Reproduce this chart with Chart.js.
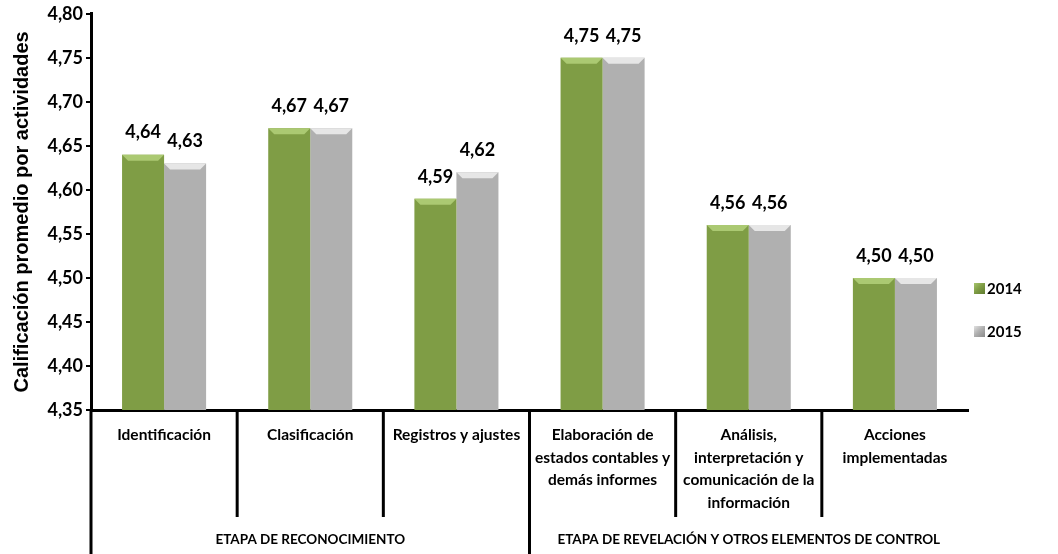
<!DOCTYPE html>
<html lang="es">
<head>
  <meta charset="UTF-8">
  <title>Calificación promedio por actividades</title>
  <style>
    body {
      margin: 0;
      background: white;
    }
    .wrap {
      width: 1058px;
      height: 554px;
    }
  </style>
  <script src="https://cdn.jsdelivr.net/npm/chart.js"></script>
</head>
<body>
  <div class="wrap"><canvas id="chart"></canvas></div>

  <script>
    const categories = [
      'Identificación',
      'Clasificación',
      'Registros y ajustes',
      ['Elaboración de', 'estados contables y', 'demás informes'],
      ['Análisis,', 'interpretación y', 'comunicación de la', 'información'],
      ['Acciones', 'implementadas']
    ];
    const groups = ['ETAPA DE RECONOCIMIENTO', 'ETAPA DE REVELACIÓN Y OTROS ELEMENTOS DE CONTROL'];
    const groupSizes = [3, 3];
    const values2014 = [4.64, 4.67, 4.59, 4.75, 4.56, 4.50];
    const values2015 = [4.63, 4.67, 4.62, 4.75, 4.56, 4.50];
    const yMin = 4.35, yMax = 4.80, yStep = 0.05;

    const fmt = v => v.toFixed(2).replace('.', ',');
    const labelFont = 'Lato, "Open Sans", sans-serif';

    const colors = {
      green: { main: '#7f9d45', light: '#abc972', dark: '#5f7a2f' },
      gray: { main: '#b0b0b0', light: '#e6e6e6', dark: '#8a8a8a' }
    };

    // horizontal gradient so the bars look a bit bevelled
    function barFill(c) {
      return (ctx) => {
        const el = ctx.element;
        const chart = ctx.chart;
        if (!el || !chart.chartArea || el.width === undefined) return c.main;
        const left = el.x - el.width / 2, right = el.x + el.width / 2;
        const g = chart.ctx.createLinearGradient(left, 0, right, 0);
        g.addColorStop(0, c.dark);
        g.addColorStop(0.12, c.main);
        g.addColorStop(0.88, c.main);
        g.addColorStop(1, c.dark);
        return g;
      };
    }

    const bevelPlugin = {
      id: 'bevel',
      afterDatasetsDraw(chart) {
        const ctx = chart.ctx;
        chart.data.datasets.forEach((ds, di) => {
          const c = ds.bevel;
          chart.getDatasetMeta(di).data.forEach(bar => {
            const l = bar.x - bar.width / 2, r = bar.x + bar.width / 2;
            const t = bar.y, b = bar.base, d = 6;
            ctx.save();
            ctx.fillStyle = c.light;
            ctx.beginPath();
            ctx.moveTo(l, t); ctx.lineTo(r, t); ctx.lineTo(r - d, t + d); ctx.lineTo(l + d, t + d);
            ctx.closePath();
            ctx.fill();
            ctx.fillStyle = c.dark;
            ctx.globalAlpha = 0.35;
            ctx.beginPath();
            ctx.moveTo(l, b); ctx.lineTo(r, b); ctx.lineTo(r - d, b - d); ctx.lineTo(l + d, b - d);
            ctx.closePath();
            ctx.fill();
            ctx.restore();
          });
        });
      }
    };

    const valueLabels = {
      id: 'valueLabels',
      afterDatasetsDraw(chart) {
        const ctx = chart.ctx;
        ctx.save();
        ctx.font = 'bold 18px ' + labelFont;
        ctx.fillStyle = '#000';
        ctx.textAlign = 'center';
        ctx.textBaseline = 'middle';
        chart.data.datasets.forEach((ds, di) => {
          chart.getDatasetMeta(di).data.forEach((bar, i) => {
            ctx.fillText(fmt(ds.data[i]), bar.x, bar.y - 22);
          });
        });
        ctx.restore();
      }
    };

    // multi-level category axis: dividers + group names
    const groupAxis = {
      id: 'groupAxis',
      afterDraw(chart) {
        const ctx = chart.ctx;
        const x = chart.scales.x;
        const area = chart.chartArea;
        const half = (x.getPixelForValue(1) - x.getPixelForValue(0)) / 2;
        const edge = i => x.getPixelForValue(i) - half;
        ctx.save();
        ctx.strokeStyle = '#000';
        ctx.lineWidth = 3;
        // y axis line continues down
        ctx.beginPath();
        ctx.moveTo(area.left, area.bottom);
        ctx.lineTo(area.left, chart.height);
        ctx.stroke();
        let start = 0;
        groupSizes.forEach((n, g) => {
          for (let i = start + 1; i < start + n; i++) {
            ctx.beginPath();
            ctx.moveTo(edge(i), area.bottom);
            ctx.lineTo(edge(i), area.bottom + 107);
            ctx.stroke();
          }
          if (start > 0) {
            ctx.beginPath();
            ctx.moveTo(edge(start), area.bottom);
            ctx.lineTo(edge(start), chart.height);
            ctx.stroke();
          }
          const mid = (edge(start) + edge(start + n)) / 2;
          ctx.font = 'bold 13.5px ' + labelFont;
          ctx.fillStyle = '#000';
          ctx.textAlign = 'center';
          ctx.textBaseline = 'middle';
          ctx.fillText(groups[g], mid, area.bottom + 130);
          start += n;
        });
        ctx.restore();
      }
    };

    // legend to the right of the plot
    const sideLegend = {
      id: 'sideLegend',
      afterDraw(chart) {
        const ctx = chart.ctx;
        const area = chart.chartArea;
        const bx = area.right + 6;
        const ys = [288, 331];
        ctx.save();
        ctx.font = 'bold 15px ' + labelFont;
        ctx.textBaseline = 'middle';
        ctx.textAlign = 'left';
        chart.data.datasets.forEach((ds, i) => {
          const y = ys[i];
          const g = ctx.createLinearGradient(bx, y - 6, bx + 11, y + 6);
          g.addColorStop(0, ds.bevel.light);
          g.addColorStop(0.5, ds.bevel.main);
          g.addColorStop(1, ds.bevel.dark);
          ctx.fillStyle = g;
          ctx.fillRect(bx, y - 5, 11, 11);
          ctx.fillStyle = '#000';
          ctx.fillText(ds.label, bx + 13, y + 1);
        });
        ctx.restore();
      }
    };

    new Chart(document.getElementById('chart'), {
      type: 'bar',
      data: {
        labels: categories,
        datasets: [
          { label: '2014', data: values2014, backgroundColor: barFill(colors.green), bevel: colors.green, borderWidth: 0 },
          { label: '2015', data: values2015, backgroundColor: barFill(colors.gray), bevel: colors.gray, borderWidth: 0 }
        ]
      },
      options: {
        responsive: true,
        maintainAspectRatio: false,
        animation: false,
        layout: { padding: { top: 10, right: 90, left: 6 } },
        datasets: {
          bar: { categoryPercentage: 0.575, barPercentage: 1.0 }
        },
        scales: {
          x: {
            grid: { display: false, drawTicks: false },
            border: { color: '#000', width: 3 },
            ticks: {
              color: '#000',
              font: { family: labelFont, size: 15.5, weight: 'bold', lineHeight: 1.45 },
              padding: 14,
              maxRotation: 0,
              autoSkip: false
            },
            afterFit(s) { s.height = 144; }
          },
          y: {
            min: yMin,
            max: yMax,
            grid: { drawOnChartArea: false, color: '#000', tickLength: 5, lineWidth: 2 },
            border: { color: '#000', width: 3 },
            ticks: {
              stepSize: yStep,
              color: '#000',
              font: { family: labelFont, size: 18, weight: 'bold' },
              padding: 3,
              callback: v => fmt(v)
            },
            title: {
              display: true,
              text: 'Calificación promedio por actividades',
              color: '#000',
              font: { family: '"Liberation Sans", Arial, sans-serif', size: 20, weight: 'bold' },
              padding: 4
            },
            afterFit(s) { s.width = 85; }
          }
        },
        plugins: {
          legend: { display: false },
          tooltip: { enabled: false }
        }
      },
      plugins: [bevelPlugin, valueLabels, groupAxis, sideLegend]
    });
  </script>
</body>
</html>
